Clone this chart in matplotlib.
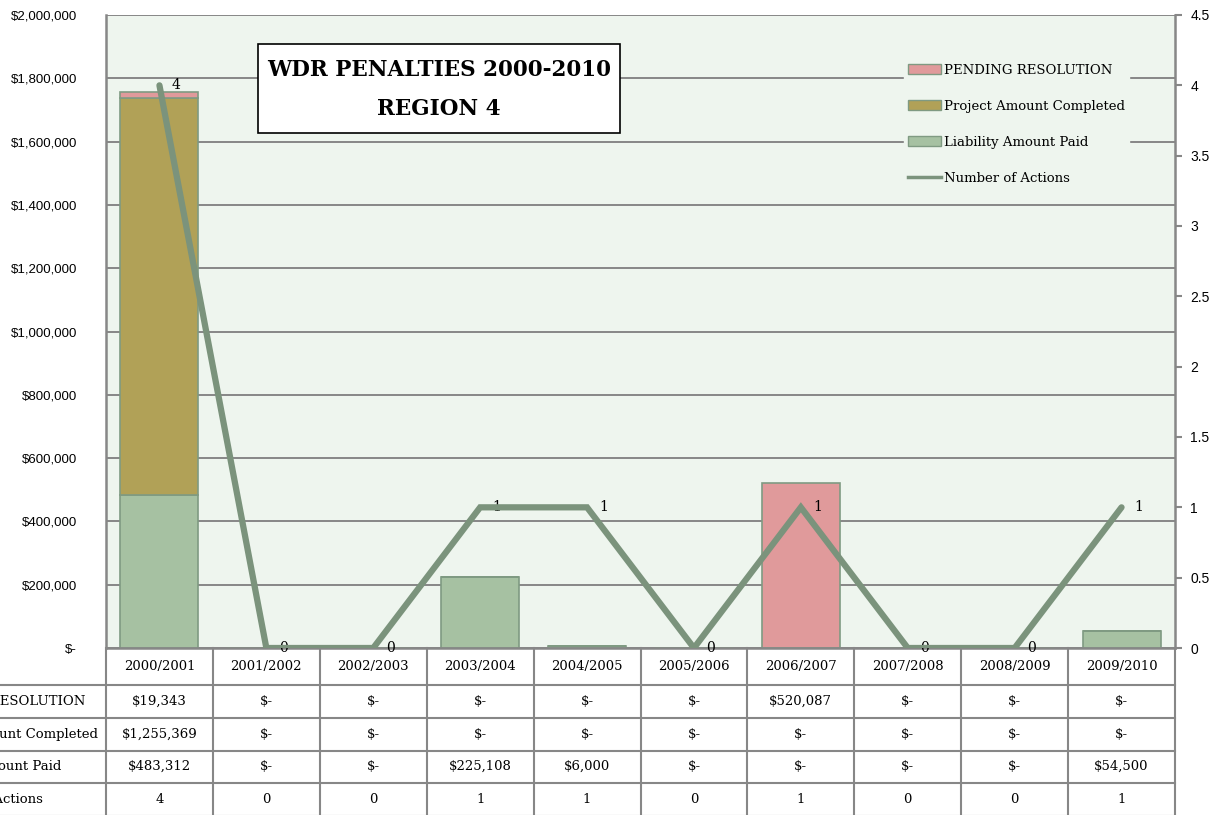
import matplotlib.pyplot as plt
from matplotlib.patches import Patch, Rectangle
from matplotlib.lines import Line2D
import matplotlib.transforms as mtransforms

years = ["2000/2001", "2001/2002", "2002/2003", "2003/2004", "2004/2005",
         "2005/2006", "2006/2007", "2007/2008", "2008/2009", "2009/2010"]
pending = [19343, 0, 0, 0, 0, 0, 520087, 0, 0, 0]
project = [1255369, 0, 0, 0, 0, 0, 0, 0, 0, 0]
liability = [483312, 0, 0, 225108, 6000, 0, 0, 0, 0, 54500]
actions = [4, 0, 0, 1, 1, 0, 1, 0, 0, 1]
row_names = ["PENDING RESOLUTION", "Project Amount Completed",
             "Liability Amount Paid", "Number of Actions"]

c_pend = "#e09a9b"
c_proj = "#b1a157"
c_liab = "#a6c1a2"
c_line = "#7b937c"
c_edge = "#7f9a82"
bg = "#eef5ee"
grey = "#878787"
serif = "DejaVu Serif"
sans = "Liberation Sans"


def money(v):
    return "$-" if v == 0 else "${:,.0f}".format(v)


fig = plt.figure(figsize=(12.27, 8.15), dpi=100)
ax = fig.add_axes([106 / 1227, 1 - 648 / 815, 1069 / 1227, 633 / 815])
ax.set_facecolor(bg)

x = list(range(len(years)))
w = 0.73
ax.bar(x, liability, w, color=c_liab, edgecolor=c_edge, linewidth=1.2, zorder=2)
bottom2 = liability
ax.bar(x, project, w, bottom=bottom2, color=c_proj, edgecolor=c_edge,
       linewidth=1.2, zorder=2)
bottom3 = [a + b for a, b in zip(liability, project)]
ax.bar(x, pending, w, bottom=bottom3, color=c_pend, edgecolor=c_edge,
       linewidth=1.2, zorder=2)

ax.set_xlim(-0.5, len(years) - 0.5)
ax.set_ylim(0, 2000000)
ax.set_yticks(range(0, 2000001, 200000))
ax.set_yticklabels([money(v) for v in range(0, 2000001, 200000)],
                   fontfamily=sans, fontsize=9.5)
ax.tick_params(axis="y", length=0, pad=21)
ax.set_xticks([])
ax.grid(axis="y", color=grey, linewidth=1.4, zorder=1)
ax.set_axisbelow(True)
for s in ["left", "right", "bottom"]:
    ax.spines[s].set_color(grey)
    ax.spines[s].set_linewidth(1.8)
ax.spines["top"].set_visible(False)

ax2 = ax.twinx()
ax2.plot(x, actions, color=c_line, linewidth=4.5, solid_capstyle="round",
         solid_joinstyle="miter", zorder=5)
ax2.set_ylim(0, 4.5)
ax2.set_yticks([i * 0.5 for i in range(10)])
ax2.set_yticklabels(["0", "0.5", "1", "1.5", "2", "2.5", "3", "3.5", "4", "4.5"],
                    fontfamily=sans, fontsize=10)
ax2.tick_params(axis="y", length=5, width=1.5, color=grey, pad=6)
for s in ax2.spines.values():
    s.set_visible(False)
for i, v in enumerate(actions):
    ax2.annotate(str(v), (i, v), xytext=(9, 0), textcoords="offset points",
                 ha="left", va="center", fontfamily=serif, fontsize=10)

handles = [Patch(facecolor=c_pend, edgecolor=c_edge),
           Patch(facecolor=c_proj, edgecolor=c_edge),
           Patch(facecolor=c_liab, edgecolor=c_edge),
           Line2D([], [], color=c_line, linewidth=2.5)]
leg = ax2.legend(handles, row_names, loc="upper left",
                 bbox_to_anchor=(0.74, 0.94), frameon=True,
                 facecolor=bg, edgecolor=bg, framealpha=1,
                 prop={"family": serif, "size": 9.5}, labelspacing=1.75,
                 handlelength=2.5, handleheight=0.7, handletextpad=0.25,
                 borderpad=0.3, fancybox=False)
leg.set_zorder(6)

# title box
ax2.add_patch(Rectangle((0.1422, 0.8136), 0.3386, 0.1406, transform=ax.transAxes,
                        facecolor="white", edgecolor="black", linewidth=1.2,
                        zorder=7))
ax2.text(0.3115, 0.883, "WDR PENALTIES 2000-2010\nREGION 4", transform=ax.transAxes,
         ha="center", va="center", fontfamily=serif, fontweight="bold",
         fontsize=15.5, linespacing=2.0, zorder=8)

# data table under the plot
trans = mtransforms.blended_transform_factory(ax.transData, ax.transAxes)
h = 633.0
edges_px = [648, 685, 718, 750.5, 783, 816]
edges = [(648 - p) / h for p in edges_px]
left_x = -0.5 - 120 / 106.9
for e in edges[1:]:
    ax.plot([left_x, len(years) - 0.5], [e, e], transform=trans, color=grey,
            linewidth=1.5, clip_on=False)
for b in range(len(years) + 1):
    ax.plot([b - 0.5, b - 0.5], [0, edges[-1]], transform=trans, color=grey,
            linewidth=1.5, clip_on=False)

for i, yr in enumerate(years):
    ax.text(i, (edges[0] + edges[1]) / 2, yr, transform=trans, ha="center",
            va="center", fontfamily=serif, fontsize=9.5)

rows = [[money(v) for v in pending], [money(v) for v in project],
        [money(v) for v in liability], [str(v) for v in actions]]
label_x = -0.5 + (-83 - 106) / 106.9
for r, vals in enumerate(rows):
    yc = (edges[r + 1] + edges[r + 2]) / 2
    ax.text(label_x, yc, row_names[r], transform=trans, ha="left", va="center",
            fontfamily=serif, fontsize=9.5)
    for i, t in enumerate(vals):
        ax.text(i, yc, t, transform=trans, ha="center", va="center",
                fontfamily=serif, fontsize=9.5)

fig.savefig("out.png", dpi=100)
